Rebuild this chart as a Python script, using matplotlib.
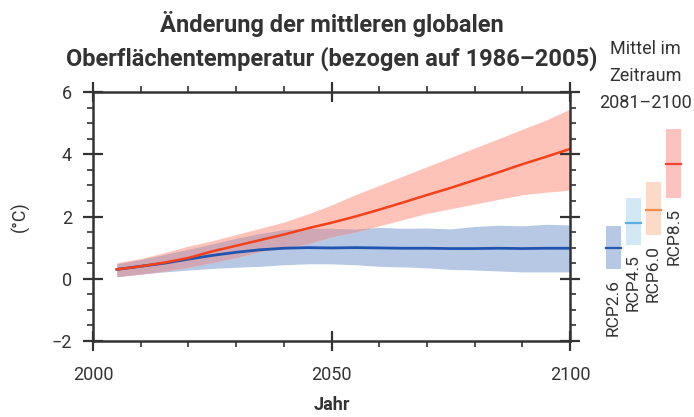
import numpy as np
import matplotlib
matplotlib.use("Agg")
import matplotlib.pyplot as plt
from matplotlib.ticker import MultipleLocator

plt.rcParams['font.family'] = ['Roboto', 'DejaVu Sans']

# time series (5-year steps)
years = [2005, 2010, 2015, 2020, 2025, 2030, 2035, 2040, 2045, 2050,
         2055, 2060, 2065, 2070, 2075, 2080, 2085, 2090, 2095, 2100]

rcp85_mean = [0.30, 0.40, 0.52, 0.67, 0.88, 1.06, 1.24, 1.42, 1.62, 1.80,
              2.00, 2.22, 2.45, 2.69, 2.92, 3.17, 3.42, 3.68, 3.92, 4.17]
rcp85_hi = [0.52, 0.65, 0.84, 1.05, 1.22, 1.42, 1.62, 1.82, 2.08, 2.37,
            2.70, 3.00, 3.30, 3.60, 3.90, 4.20, 4.50, 4.80, 5.10, 5.45]
rcp85_lo = [0.07, 0.15, 0.25, 0.37, 0.52, 0.68, 0.87, 1.00, 1.12, 1.35,
            1.50, 1.70, 1.90, 2.10, 2.25, 2.40, 2.55, 2.70, 2.78, 2.85]

rcp26_mean = [0.30, 0.40, 0.50, 0.63, 0.75, 0.85, 0.93, 0.98, 1.00, 0.99,
              1.00, 0.99, 0.98, 0.98, 0.97, 0.97, 0.98, 0.97, 0.98, 0.98]
rcp26_hi = [0.48, 0.62, 0.78, 0.95, 1.12, 1.30, 1.45, 1.58, 1.62, 1.62,
            1.60, 1.65, 1.62, 1.63, 1.60, 1.68, 1.72, 1.70, 1.75, 1.73]
rcp26_lo = [0.07, 0.15, 0.22, 0.28, 0.33, 0.37, 0.40, 0.45, 0.48, 0.48,
            0.45, 0.40, 0.38, 0.35, 0.30, 0.28, 0.25, 0.22, 0.22, 0.22]

# 2081-2100 means and ranges
scenarios = ['RCP2.6', 'RCP4.5', 'RCP6.0', 'RCP8.5']
sc_mean = [1.0, 1.8, 2.2, 3.7]
sc_lo = [0.3, 1.1, 1.4, 2.6]
sc_hi = [1.7, 2.6, 3.1, 4.8]
sc_fill = ['#b7c8e5', '#d3e8f5', '#fdd9c8', '#fcc2bf']
sc_line = ['#2258b0', '#5ab0e2', '#f68a4c', '#f0452e']

dark = '#333333'

fig = plt.figure(figsize=(6.94, 4.17), dpi=100)
ax = fig.add_axes([93 / 694, 76 / 417, 477 / 694, 249 / 417])

yr = np.array(years)
blo, bhi = np.array(rcp26_lo), np.array(rcp26_hi)
rlo, rhi = np.array(rcp85_lo), np.array(rcp85_hi)

ax.fill_between(yr, blo, bhi, color='#b7c8e5', lw=0)
ax.fill_between(yr, rlo, rhi, color='#fdc3b8', lw=0)
# overlap of both ranges
olo = np.maximum(blo, rlo)
ohi = np.minimum(bhi, rhi)
ax.fill_between(yr, olo, ohi, where=ohi > olo, interpolate=True,
                color='#cfa7b5', lw=0)
ax.plot(yr, rcp26_mean, color='#1f55b0', lw=2)
ax.plot(yr, rcp85_mean, color='#f5401a', lw=1.8)

ax.set_xlim(2000, 2100)
ax.set_ylim(-2, 6)
ax.xaxis.set_major_locator(MultipleLocator(50))
ax.xaxis.set_minor_locator(MultipleLocator(10))
ax.yaxis.set_major_locator(MultipleLocator(2))
ax.yaxis.set_minor_locator(MultipleLocator(0.5))
ax.tick_params(which='major', direction='inout', length=14, width=1.6,
               color=dark, top=True, right=True, labelsize=13,
               labelcolor=dark, pad=8)
ax.tick_params(which='minor', direction='out', length=4.5, width=1.2,
               color=dark, top=True, right=True)
ax.tick_params(axis='x', pad=11)
for s in ax.spines.values():
    s.set_linewidth(1.8)
    s.set_color(dark)

ax.set_xlabel('Jahr', fontsize=13, fontweight='bold', color=dark, labelpad=9)
ax.set_ylabel('(°C)', fontsize=13, color=dark, labelpad=16)
ax.set_title('Änderung der mittleren globalen\n'
             'Oberflächentemperatur (bezogen auf 1986–2005)',
             fontsize=17, fontweight='bold', color=dark, pad=19,
             linespacing=1.5)

# side panel with 2081-2100 ranges
ax2 = fig.add_axes([600 / 694, 76 / 417, 90 / 694, 249 / 417])
ax2.set_xlim(-0.65, 3.8)
ax2.set_ylim(-2, 6)
ax2.axis('off')
xs = np.arange(len(scenarios))
w = 0.74
ax2.bar(xs, np.array(sc_hi) - np.array(sc_lo), bottom=sc_lo, width=w,
        color=sc_fill)
for i in range(len(scenarios)):
    ax2.plot([xs[i] - w / 2, xs[i] + w / 2], [sc_mean[i]] * 2,
             color=sc_line[i], lw=1.6)
    ax2.annotate(scenarios[i], (xs[i], sc_lo[i]), xytext=(0, -7),
                 textcoords='offset points', rotation=90, ha='center',
                 va='top', fontsize=12.5, color=dark)

fig.text(645 / 694, 1 - 76 / 417, 'Mittel im\nZeitraum\n2081–2100',
         ha='center', va='center', fontsize=13, color=dark, linespacing=1.62)

fig.savefig('out.png', dpi=100)
